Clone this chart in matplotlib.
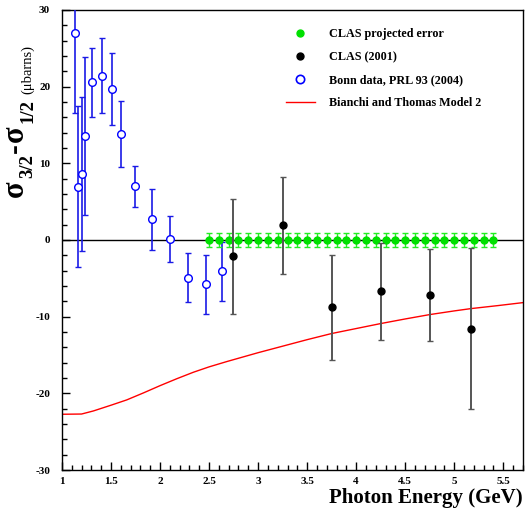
import numpy as np
import matplotlib
matplotlib.use("Agg")
import matplotlib.pyplot as plt
from matplotlib.ticker import MultipleLocator, FormatStrFormatter
from matplotlib.lines import Line2D
from matplotlib.legend_handler import HandlerLine2D

plt.rcParams['font.family'] = ['Liberation Serif', 'DejaVu Serif']
plt.rcParams['font.weight'] = 'bold'
plt.rcParams['axes.unicode_minus'] = False

# CLAS projected error
clas_proj_e = [2.5, 2.6, 2.7, 2.8, 2.9, 3.0, 3.1, 3.2, 3.3, 3.4,
               3.5, 3.6, 3.7, 3.8, 3.9, 4.0, 4.1, 4.2, 4.3, 4.4,
               4.5, 4.6, 4.7, 4.8, 4.9, 5.0, 5.1, 5.2, 5.3, 5.4]
clas_proj_y = [0.0] * len(clas_proj_e)
clas_proj_err = [0.9] * len(clas_proj_e)

# CLAS (2001)
clas_e = [2.745, 3.25, 3.75, 4.25, 4.75, 5.17]
clas_y = [-2.1, 1.9, -8.8, -6.7, -7.2, -11.6]
clas_err = [7.5, 6.3, 6.8, 6.3, 6.0, 10.5]

# Bonn data, PRL 93 (2004)
bonn_e = [1.132, 1.166, 1.20, 1.234, 1.305, 1.404, 1.506, 1.604, 1.743,
          1.92, 2.10, 2.286, 2.466, 2.635]
bonn_y = [26.95, 6.95, 8.6, 13.6, 20.6, 21.4, 19.7, 13.8, 7.0,
          2.7, 0.15, -4.9, -5.8, -4.1]
bonn_err = [10.4, 10.5, 10.0, 10.3, 4.5, 4.9, 4.7, 4.3, 2.7,
            4.0, 3.0, 3.2, 3.9, 3.9]

# Bianchi and Thomas Model 2
model_e = [1.0, 1.2, 1.32, 1.5, 1.66, 1.83, 2.0, 2.17, 2.34, 2.5, 2.68,
           3.0, 3.25, 3.5, 3.75, 4.0, 4.25, 4.5, 4.75, 5.0, 5.17, 5.45, 5.7]
model_y = [-22.73, -22.7, -22.3, -21.55, -20.86, -19.95, -19.0, -18.1, -17.25,
           -16.55, -15.86, -14.7, -13.85, -13.0, -12.2, -11.55, -10.9, -10.3,
           -9.73, -9.25, -8.95, -8.55, -8.17]


class EndMarkerHandler(HandlerLine2D):
    # ROOT-like legend: marker sits at the right end of the handle
    def get_xdata(self, legend, xdescent, ydescent, width, height, fontsize):
        xdata, _ = super().get_xdata(legend, xdescent, ydescent, width, height, fontsize)
        return xdata, [width - xdescent - 0.1 * fontsize]


W, H = 525, 514
fig = plt.figure(figsize=(W / 100, H / 100), dpi=100)
ax = fig.add_axes([0.118, 0.0856, 0.878, 0.895])

ax.axhline(0, color='black', lw=1.0, zorder=1)

ax.plot(model_e, model_y, color='red', lw=1.0, zorder=2)

ax.errorbar(clas_proj_e, clas_proj_y, yerr=clas_proj_err, fmt='o',
            color='#00e000', ecolor='#22ee22', ms=5, capsize=2.2,
            elinewidth=1.0, capthick=1.0, zorder=4)

ax.errorbar(clas_e, clas_y, yerr=clas_err, fmt='o', color='black',
            ecolor='#555555', ms=5, capsize=2.3, elinewidth=1.4,
            capthick=1.0, zorder=5)

ax.errorbar(bonn_e, bonn_y, yerr=bonn_err, fmt='o', mfc='white', mec='blue',
            mew=1.0, ecolor='#1a1ae6', ms=5.5, capsize=2.4, elinewidth=1.2,
            capthick=1.0, zorder=3)

ax.set_xlim(1, 5.7)
ax.set_ylim(-30, 30)
ax.xaxis.set_major_locator(MultipleLocator(0.5))
ax.xaxis.set_minor_locator(MultipleLocator(0.1))
ax.yaxis.set_major_locator(MultipleLocator(10))
ax.yaxis.set_minor_locator(MultipleLocator(2))
ax.xaxis.set_major_formatter(FormatStrFormatter('%g'))
ax.yaxis.set_major_formatter(FormatStrFormatter('%g'))
ax.tick_params(which='both', direction='in', top=False, right=False,
               labelsize=8, width=1.0)
ax.tick_params(which='major', length=6)
ax.tick_params(which='minor', length=3.5)
ax.tick_params(axis='x', pad=5)
ax.tick_params(axis='y', pad=8.5)
for lab in ax.get_xticklabels() + ax.get_yticklabels():
    lab.set_fontweight('bold')
for sp in ax.spines.values():
    sp.set_linewidth(1.0)

leg_handles = [
    Line2D([], [], ls='none', marker='o', color='#00e000', ms=5),
    Line2D([], [], ls='none', marker='o', color='black', ms=5),
    Line2D([], [], ls='none', marker='o', mfc='white', mec='blue', mew=1.2, ms=6),
    Line2D([], [], color='red', lw=1.0),
]
leg_labels = ['CLAS projected error', 'CLAS (2001)',
              'Bonn data, PRL 93 (2004)', 'Bianchi and Thomas Model 2']
ax.legend(leg_handles, leg_labels, loc='upper left',
          bbox_to_anchor=(0.462, 0.985), frameon=False,
          prop={'weight': 'bold', 'size': 8.7}, labelspacing=0.93,
          handlelength=2.4, handletextpad=1.2, numpoints=1,
          handler_map={h: EndMarkerHandler() for h in leg_handles[:3]})

fig.text(0.996, 0.0214, 'Photon Energy (GeV)', ha='right', va='baseline',
         fontsize=15, fontweight='bold')

# y label built piece by piece (ROOT style sub-scripts), reading bottom to top
pieces = [
    ('\u03c3', 22, 'bold', 23, 2),
    ('3/2', 13.5, 'bold', 32, 2),
    ('-', 21, 'bold', 23, 1),
    ('\u03c3', 22, 'bold', 23, 2),
    ('1/2', 13.5, 'bold', 32, 5),
    ('(\u03bcbarns)', 10.5, 'normal', 31, 0),
]
fig.canvas.draw()
renderer = fig.canvas.get_renderer()
ypix = H - 197
for s, size, weight, xbase, gap in pieces:
    t = fig.text(xbase / W, ypix / H, s, rotation=90, rotation_mode='anchor',
                 ha='left', va='baseline', fontsize=size, fontweight=weight)
    bb = t.get_window_extent(renderer)
    ypix = bb.y1 + gap

fig.savefig('out.png', dpi=100)
